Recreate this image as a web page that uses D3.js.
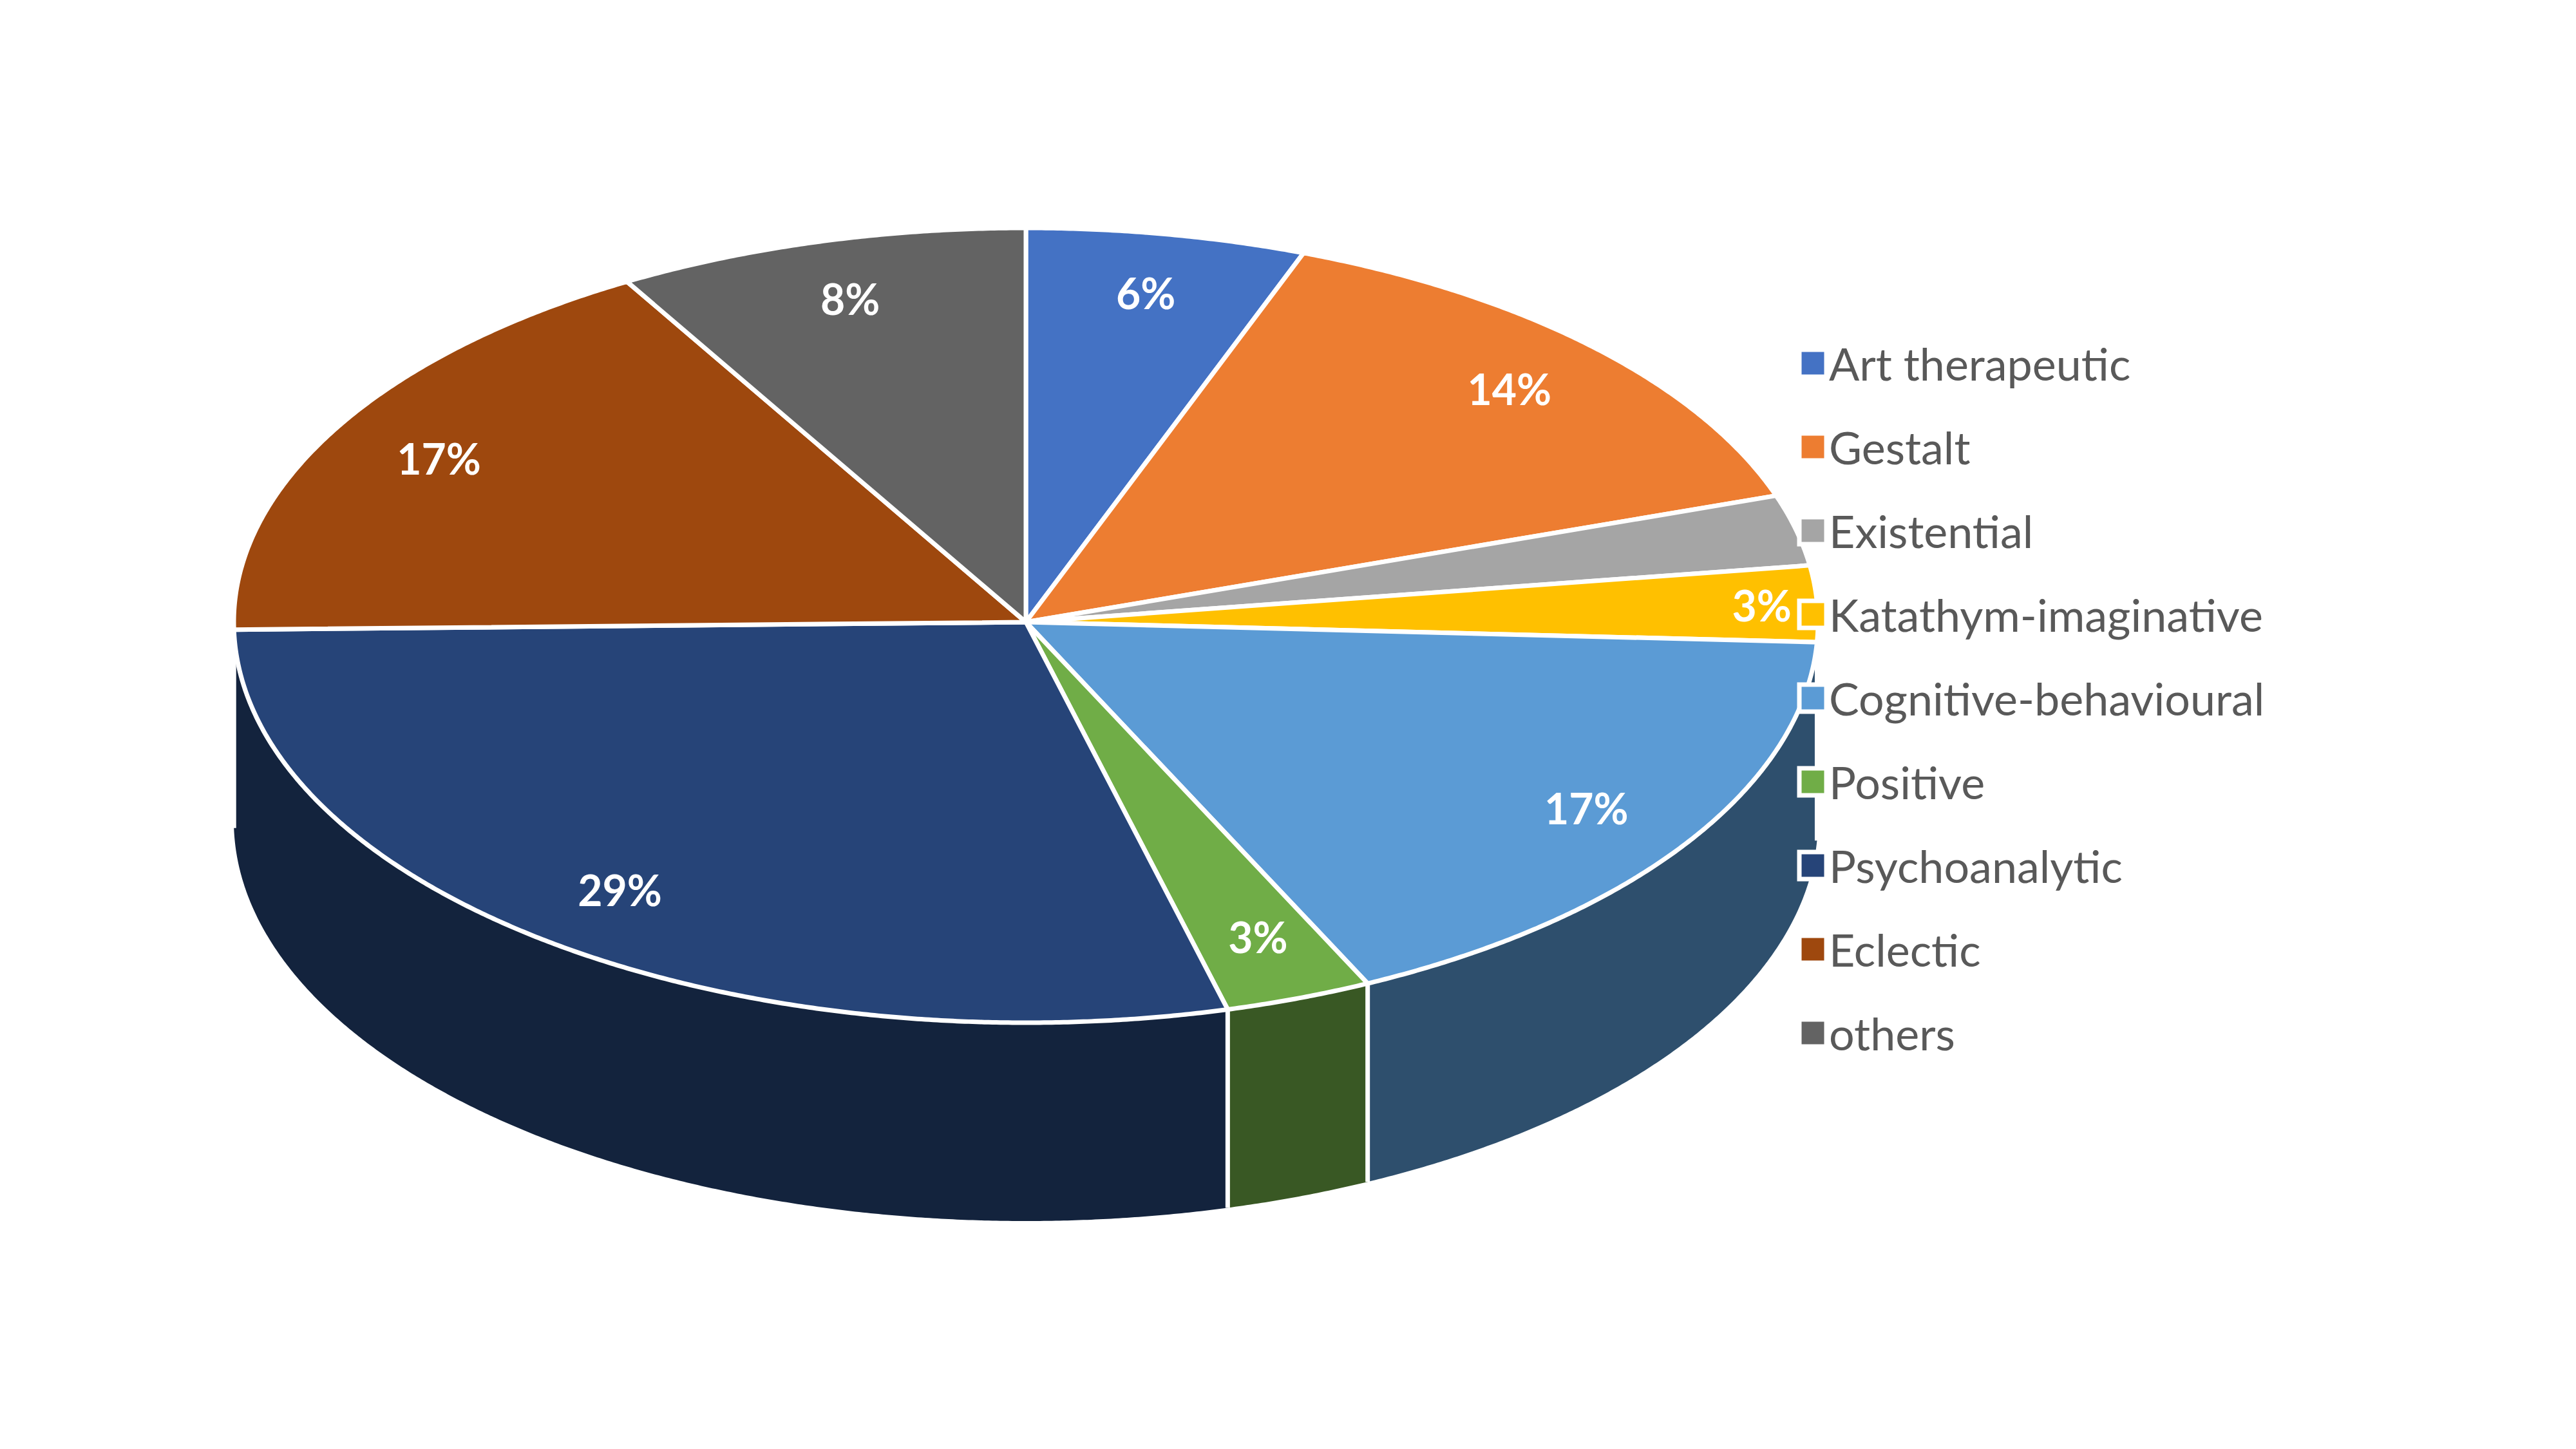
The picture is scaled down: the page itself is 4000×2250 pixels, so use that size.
<!DOCTYPE html>
<html>
<head>
<meta charset="utf-8">
<script src="https://cdn.jsdelivr.net/npm/d3@7"></script>
<style>
    html, body { margin: 0; padding: 0; background: #ffffff; }
    svg { display: block; }
</style>
</head>
<body>
<svg id="chart" width="4000" height="2250"></svg>
<script>

 // Slices in clockwise order starting from 12 o'clock
 const categories = ["Art therapeutic", "Gestalt", "Existential", "Katathym-imaginative",
                     "Cognitive-behavioural", "Positive", "Psychoanalytic", "Eclectic", "others"];
 const values = [5.7, 14.1, 2.9, 3.1, 17.1, 3.0, 28.8, 16.9, 8.4];
 const pctLabels = ["6%", "14%", "", "3%", "17%", "3%", "29%", "17%", "8%"];
 const colors = ["#4472C4", "#ED7D31", "#A5A5A5", "#FFC000", "#5B9BD5",
                 "#70AD47", "#264478", "#9E480E", "#636363"];

 const W = 4000, H = 2250;

 // geometry of the tilted pie
 let cx = 1593, cy = 966;
 let rx = 1230;
 let ryBack = 612, ryFront = 622;
 let depth = 308;

 const svg = d3.select('#chart');

 svg.append('rect').attr('width', W).attr('height', H).attr('fill', '#ffffff');

 function ellipsePoint(a, r = 1, dy = 0){
    // a is measured clockwise from the top, radians
    let ry = Math.cos(a) > 0 ? ryBack : ryFront;
    return [cx + r * rx * Math.sin(a), cy - r * ry * Math.cos(a) + dy];
 }

 function arcPoints(a0, a1, dy = 0){
    let pts = [];
    let n = Math.max(2, Math.ceil(Math.abs(a1 - a0) / 0.005));
    for (let i = 0; i <= n; i++){
        pts.push(ellipsePoint(a0 + (a1 - a0) * i / n, 1, dy));
    }
    return pts;
 }

 function darken(c, k){
    let rgb = d3.rgb(c);
    return d3.rgb(rgb.r * k, rgb.g * k, rgb.b * k).toString();
 }

 const pie = d3.pie().sort(null).value(d => d.value);
 const slices = pie(categories.map((c, i) => ({name: c, value: values[i], color: colors[i], label: pctLabels[i]})));
 const line = d3.line();

 // - - - - - - - - - side walls (front half only) - - - - - - - - -
 let front0 = Math.PI / 2, front1 = 3 * Math.PI / 2;
 let sides = svg.append('g');
 let sideEdges = [];

 for (let s of slices){
    let a0 = Math.max(s.startAngle, front0);
    let a1 = Math.min(s.endAngle, front1);
    if (a1 <= a0) continue;

    let top = arcPoints(a0, a1);
    let bottom = arcPoints(a0, a1, depth).reverse();

    sides.append('path')
         .attr('d', line(top.concat(bottom)) + 'Z')
         .attr('fill', darken(s.data.color, 0.51));

    if (s.startAngle > front0 && s.startAngle < front1) sideEdges.push(s.startAngle);
 }

 for (let a of sideEdges){
    let p = ellipsePoint(a);
    sides.append('line')
         .attr('x1', p[0]).attr('y1', p[1])
         .attr('x2', p[0]).attr('y2', p[1] + depth)
         .attr('stroke', '#ffffff')
         .attr('stroke-width', 7);
 }

 // - - - - - - - - - top faces - - - - - - - - -
 svg.append('g').selectAll('path')
    .data(slices)
    .enter()
    .append('path')
    .attr('d', d => line([[cx, cy]].concat(arcPoints(d.startAngle, d.endAngle))) + 'Z')
    .attr('fill', d => d.data.color)
    .attr('stroke', '#ffffff')
    .attr('stroke-width', 7)
    .attr('stroke-linejoin', 'round');

 // - - - - - - - - - data labels - - - - - - - - -
 function labelPos(d){
    let mid = (d.startAngle + d.endAngle) / 2;
    let frac = (d.endAngle - d.startAngle) / (2 * Math.PI);
    // small slices on the rim get pushed outward (like Excel's best fit)
    let r = (frac < 0.035 && Math.abs(Math.sin(mid)) > 0.9) ? 0.93 : 0.85;
    return [cx + r * rx * Math.sin(mid), cy - r * ryBack * Math.cos(mid)];
 }

 svg.append('g').selectAll('text')
    .data(slices.filter(d => d.data.label !== ""))
    .enter()
    .append('text')
    .attr('x', d => labelPos(d)[0])
    .attr('y', d => labelPos(d)[1])
    .attr('text-anchor', 'middle')
    .attr('dominant-baseline', 'central')
    .attr('font-family', 'Lato, "Open Sans", sans-serif')
    .attr('font-weight', 'bold')
    .attr('font-size', 66)
    .attr('fill', '#ffffff')
    .text(d => d.data.label);

 // - - - - - - - - - legend - - - - - - - - -
 let legendX = 2794, legendY0 = 564, legendStep = 130, box = 42;

 let legend = svg.append('g').selectAll('g')
    .data(slices)
    .enter()
    .append('g')
    .attr('transform', (d, i) => `translate(${legendX},${legendY0 + i * legendStep})`);

 legend.append('rect')
       .attr('x', 0).attr('y', -box / 2)
       .attr('width', box).attr('height', box)
       .attr('fill', d => d.data.color)
       .attr('stroke', '#ffffff')
       .attr('stroke-width', 7);

 legend.append('text')
       .attr('x', box + 4)
       .attr('y', 0)
       .attr('dominant-baseline', 'central')
       .attr('font-family', 'Lato, "Open Sans", sans-serif')
       .attr('font-size', 70)
       .attr('fill', '#595959')
       .text(d => d.data.name);

</script>
</body>
</html>
